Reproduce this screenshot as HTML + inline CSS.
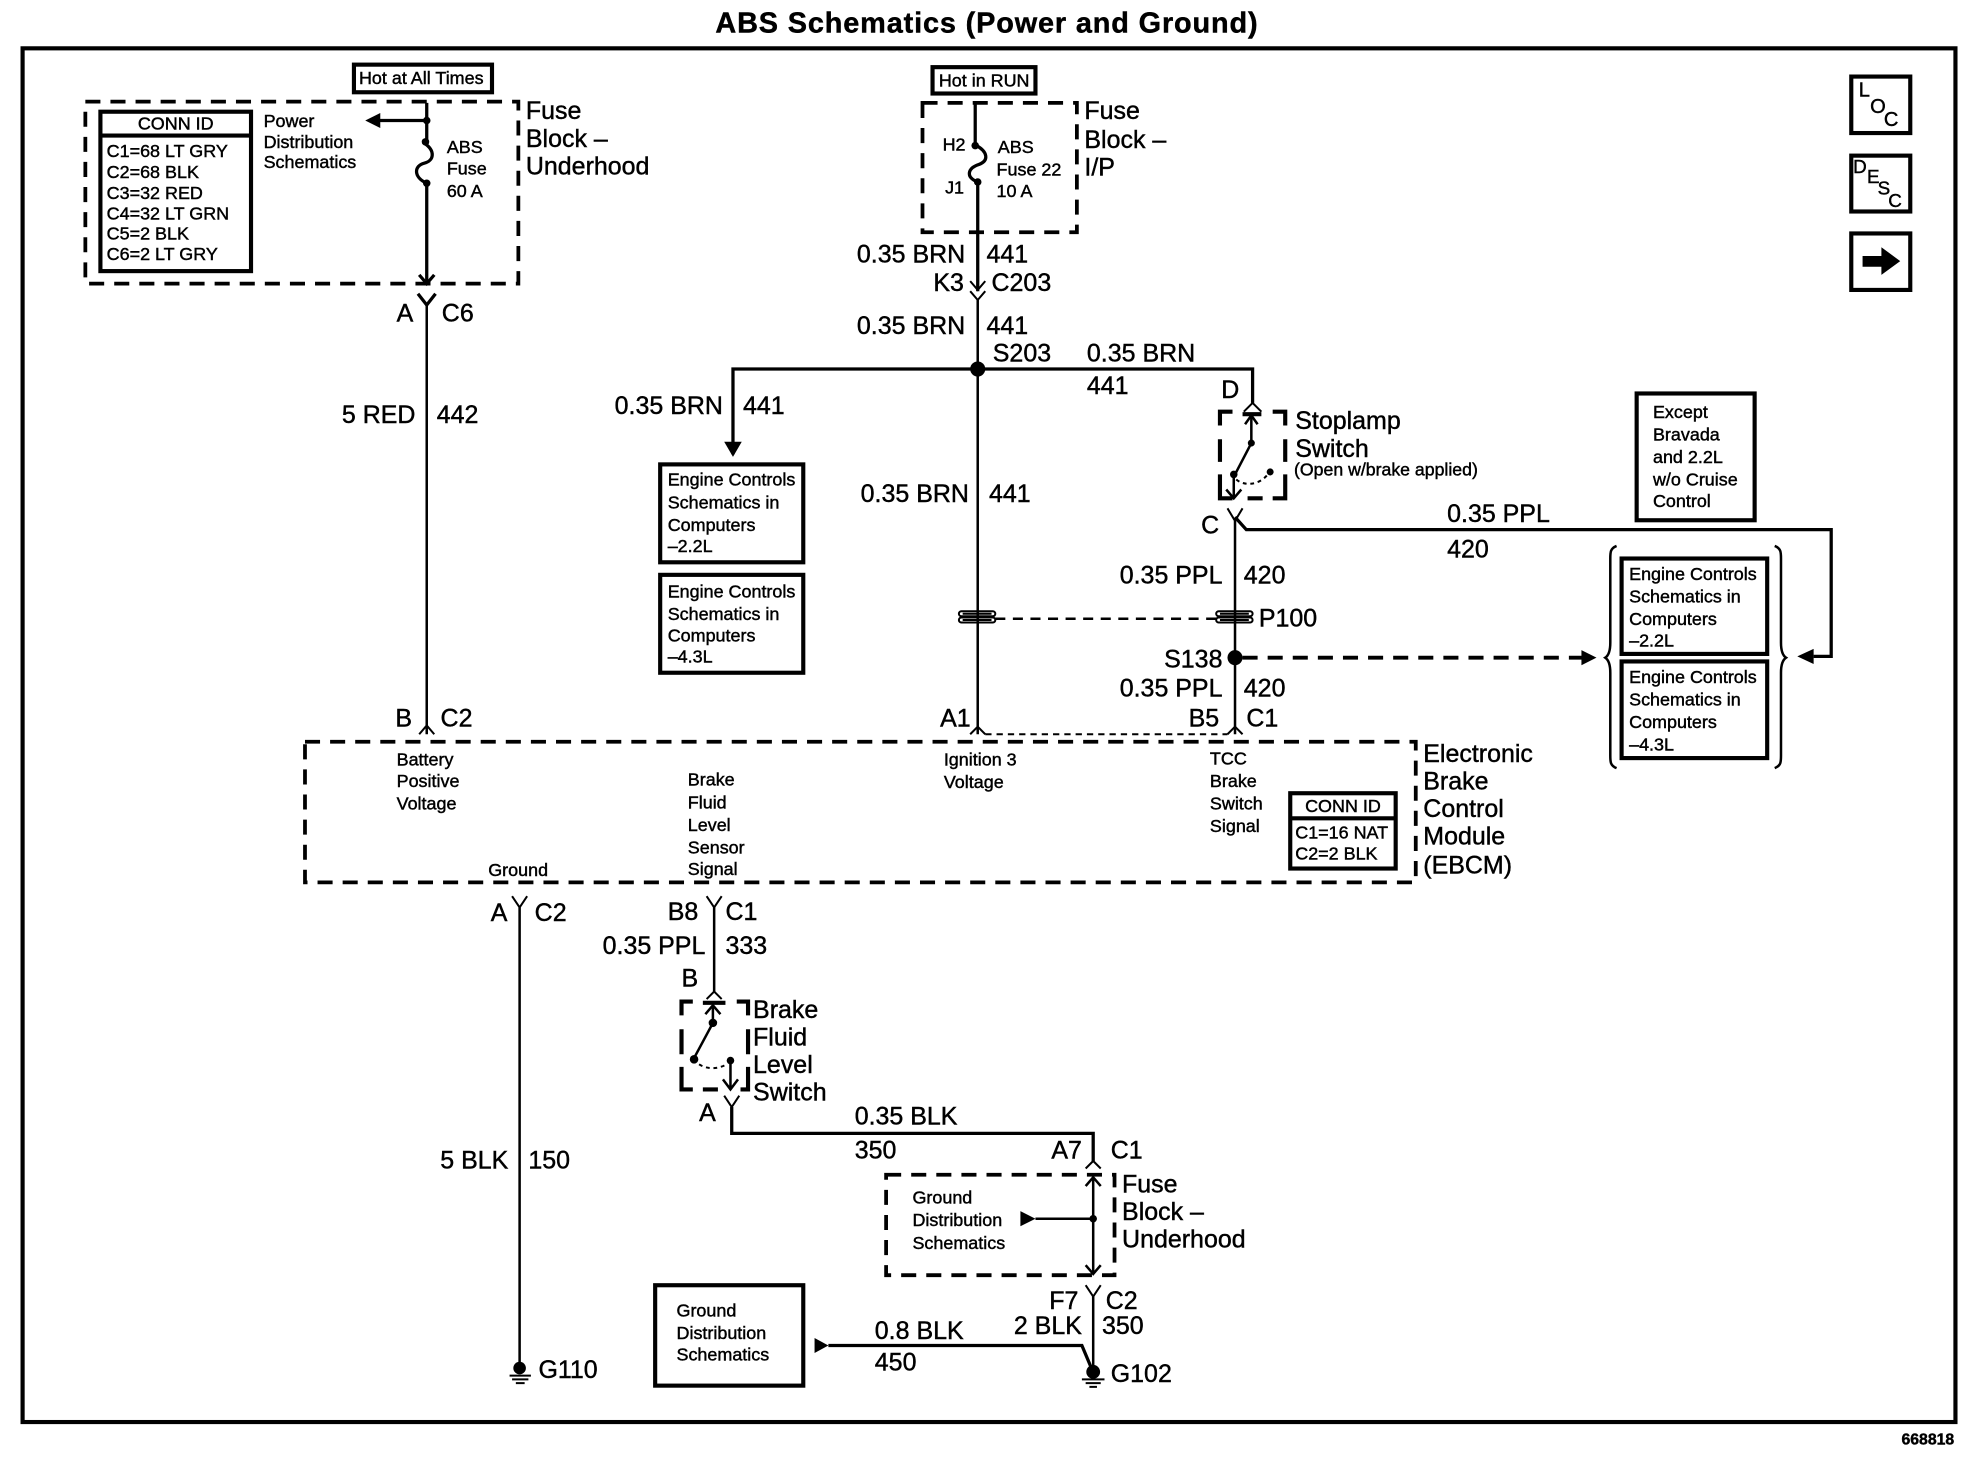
<!DOCTYPE html>
<html><head><meta charset="utf-8"><title>ABS Schematics (Power and Ground)</title>
<style>
html,body{margin:0;padding:0;background:#fff}
svg{display:block}
text{font-family:"Liberation Sans",Arial,sans-serif;fill:#000;stroke:#000;stroke-width:.35}
.w{font-size:19.900px}
.s{font-size:14.300px}
.e{text-anchor:end}
.b{fill:none;stroke:#000;stroke-width:3.300}
.l{fill:none;stroke:#000;stroke-width:2;stroke-linejoin:miter}
.h{fill:none;stroke:#000;stroke-width:2.600}
.d{fill:none;stroke:#000;stroke-width:3;stroke-dasharray:12 8}
.t{fill:none;stroke:#000;stroke-width:2;stroke-dasharray:8 6}
.c{fill:none;stroke:#000;stroke-width:1.600}
.o{fill:none;stroke:#000;stroke-width:1.600;stroke-dasharray:3 3}
</style></head><body>
<svg width="1968" height="1472" viewBox="0 0 1568 1172.800" xmlns="http://www.w3.org/2000/svg">
<rect width="1568" height="1173" fill="#fff"/>
<text x="786" y="26" text-anchor="middle" font-weight="bold" font-size="23" textLength="432">ABS Schematics (Power and Ground)</text>
<rect x="18" y="38.500" width="1540" height="1094.500" class="b"/>

<!-- top-left fuse block -->
<rect x="282" y="51.500" width="110" height="22" class="b"/>
<text x="286" y="67" class="s">Hot at All Times</text>
<rect x="68" y="81" width="345" height="145" class="d"/>
<rect x="80" y="89" width="120" height="127" class="b"/>
<path d="M80 108H200" class="b"/>
<text x="140" y="103" class="s" text-anchor="middle">CONN ID</text>
<text x="85" y="125" class="s">C1=68 LT GRY</text>
<text x="85" y="142" class="s">C2=68 BLK</text>
<text x="85" y="158.500" class="s">C3=32 RED</text>
<text x="85" y="175" class="s">C4=32 LT GRN</text>
<text x="85" y="191" class="s">C5=2 BLK</text>
<text x="85" y="207" class="s">C6=2 LT GRY</text>
<text x="210" y="101" class="s">Power</text>
<text x="210" y="118" class="s">Distribution</text>
<text x="210" y="134" class="s">Schematics</text>
<path d="M340 82V112M340 96H302" class="h"/>
<path d="M291 96L303 90V102Z"/>
<circle cx="340" cy="96" r="3"/>
<path d="M338 114C347 120 346 128 338 130C330 132 329 141 340 146" class="h"/>
<circle cx="339" cy="113" r="3"/><circle cx="340" cy="146" r="3"/>
<path d="M340 146V226" class="h"/>
<path d="M334 219L340 226L346 219" class="h"/>
<text x="356" y="122" class="s">ABS</text>
<text x="356" y="139" class="s">Fuse</text>
<text x="356" y="157" class="s">60 A</text>
<text x="419" y="95" class="w">Fuse</text>
<text x="419" y="117" class="w">Block –</text>
<text x="419" y="139" class="w">Underhood</text>
<path d="M333 234L340 243L347 234" class="h"/>
<path d="M340 243V585" class="l"/>
<text x="316" y="256" class="w">A</text><text x="352" y="256" class="w">C6</text>
<text x="331" y="337" class="w e">5 RED</text><text x="348" y="337" class="w">442</text>
<text x="315" y="579" class="w">B</text><text x="351" y="579" class="w">C2</text>
<path d="M334 585L340 578L346 585" class="c"/>

<!-- IP fuse block -->
<rect x="743" y="53.500" width="82" height="21" class="b"/>
<text x="748" y="69" class="s">Hot in RUN</text>
<rect x="735" y="82" width="123" height="103" class="d"/>
<path d="M777 82V116" class="h"/>
<circle cx="777" cy="116" r="3"/>
<path d="M778 116C787 121 788 128 780 131C771 134 769 141 779 145" class="h"/>
<circle cx="779" cy="145" r="3"/>
<path d="M779 145V232" class="h"/>
<path d="M773 224L779 231L785 224M773 232L779 239L785 232" class="c"/>
<text x="751" y="120" class="s">H2</text><text x="753" y="154" class="s">J1</text>
<text x="795" y="122" class="s">ABS</text>
<text x="794" y="140" class="s">Fuse 22</text>
<text x="794" y="157" class="s">10 A</text>
<text x="864" y="95" class="w">Fuse</text>
<text x="864" y="118" class="w">Block –</text>
<text x="864" y="140" class="w">I/P</text>
<text x="769" y="209" class="w e">0.35 BRN</text><text x="786" y="209" class="w">441</text>
<text x="768" y="232" class="w e">K3</text><text x="790" y="232" class="w">C203</text>
<text x="769" y="266" class="w e">0.35 BRN</text><text x="786" y="266" class="w">441</text>
<text x="791" y="288" class="w">S203</text>
<text x="866" y="288" class="w">0.35 BRN</text>
<text x="866" y="314" class="w">441</text>
<path d="M584 362V294H998V321" class="h"/>
<path d="M779 239V294" class="l"/>
<path d="M779 294V585" class="l"/>
<circle cx="779" cy="294" r="6"/>
<path d="M577 352H591L584 364Z"/>
<text x="576" y="330" class="w e">0.35 BRN</text><text x="592" y="330" class="w">441</text>
<text x="772" y="400" class="w e">0.35 BRN</text><text x="788" y="400" class="w">441</text>

<rect x="526" y="370" width="114" height="78" class="b"/>
<text x="532" y="387" class="s">Engine Controls</text>
<text x="532" y="405" class="s">Schematics in</text>
<text x="532" y="423" class="s">Computers</text>
<text x="532" y="440" class="s">–2.2L</text>
<rect x="526" y="458" width="114" height="78" class="b"/>
<text x="532" y="476" class="s">Engine Controls</text>
<text x="532" y="494" class="s">Schematics in</text>
<text x="532" y="511" class="s">Computers</text>
<text x="532" y="528" class="s">–4.3L</text>

<!-- stoplamp -->
<text x="973" y="317" class="w">D</text>
<path d="M991 328L998 321L1005 328" class="c"/>
<path d="M972 339V328H982M1014 328H1024V339M972 350V368M972 378V397H982M1024 350V368M1024 378V397H1014M994 397H1006" class="b"/>
<path d="M990 330H1005" class="b"/>
<path d="M997 332V353L984 378" class="l"/>
<path d="M992 338L997 331L1002 338" class="l"/>
<circle cx="997" cy="353" r="2.800"/><circle cx="983" cy="378" r="3"/><circle cx="1012" cy="376" r="2.800"/>
<path d="M985 382C992 388 1004 386 1010 378" class="o"/>
<path d="M983 378V396M977 390L983 397L989 390" class="l"/>
<text x="1032" y="342" class="w">Stoplamp</text>
<text x="1032" y="364" class="w">Switch</text>
<text x="1031" y="379" font-size="14.100">(Open w/brake applied)</text>
<text x="957" y="425" class="w">C</text>
<path d="M978 405L984 415L990 405" class="c"/>
<path d="M984 415V585" class="l"/>
<path d="M984 412L993 422H1459V523H1445" class="h"/>
<path d="M1432 523L1445 517V529Z"/>
<text x="1153" y="416" class="w">0.35 PPL</text>
<text x="1153" y="444" class="w">420</text>
<rect x="1304" y="313.500" width="94" height="101" class="b"/>
<text x="1317" y="333" class="s">Except</text>
<text x="1317" y="351" class="s">Bravada</text>
<text x="1317" y="369" class="s">and 2.2L</text>
<text x="1317" y="387" class="s">w/o Cruise</text>
<text x="1317" y="404" class="s">Control</text>

<!-- right boxes -->
<path d="M1288 435C1283 437 1283 440 1283 445V512C1283 518 1282 522 1279 524C1282 526 1283 530 1283 536V602C1283 607 1283 610 1288 612" class="l"/>
<path d="M1414 435C1419 437 1419 440 1419 445V512C1419 518 1420 522 1423 524C1420 526 1419 530 1419 536V602C1419 607 1419 610 1414 612" class="l"/>
<rect x="1292" y="445" width="116" height="76" class="b"/>
<text x="1298" y="462" class="s">Engine Controls</text>
<text x="1298" y="480" class="s">Schematics in</text>
<text x="1298" y="498" class="s">Computers</text>
<text x="1298" y="515" class="s">–2.2L</text>
<rect x="1292" y="527" width="116" height="77" class="b"/>
<text x="1298" y="544" class="s">Engine Controls</text>
<text x="1298" y="562" class="s">Schematics in</text>
<text x="1298" y="580" class="s">Computers</text>
<text x="1298" y="598" class="s">–4.3L</text>

<!-- P100 -->
<rect x="764" y="487" width="29" height="4" rx="2" class="c"/><rect x="764" y="492" width="29" height="4" rx="2" class="c"/>
<path d="M767 489H790M767 494H790" class="c"/>
<rect x="969" y="487" width="29" height="4" rx="2" class="c"/><rect x="969" y="492" width="29" height="4" rx="2" class="c"/>
<path d="M972 489H995M972 494H995" class="c"/>
<path d="M793 493H969" class="t"/>
<text x="1003" y="499" class="w">P100</text>
<text x="974" y="465" class="w e">0.35 PPL</text><text x="991" y="465" class="w">420</text>
<text x="974" y="532" class="w e">S138</text>
<circle cx="984" cy="524" r="6"/>
<path d="M990 524H1262" class="d"/>
<path d="M1272 524L1260 518V530Z"/>
<text x="974" y="555" class="w e">0.35 PPL</text><text x="991" y="555" class="w">420</text>
<text x="749" y="579" class="w">A1</text>
<text x="947" y="579" class="w">B5</text><text x="993" y="579" class="w">C1</text>
<path d="M773 585L779 579L785 585M978 585L984 579L990 585" class="c"/>
<path d="M785 585H978" fill="none" stroke="#000" stroke-width="1.600" stroke-dasharray="5 4"/>

<!-- EBCM -->
<rect x="243" y="591" width="885" height="112" class="d"/>
<text x="316" y="610" class="s">Battery</text>
<text x="316" y="627" class="s">Positive</text>
<text x="316" y="645" class="s">Voltage</text>
<text x="548" y="626" class="s">Brake</text>
<text x="548" y="644" class="s">Fluid</text>
<text x="548" y="662" class="s">Level</text>
<text x="548" y="680" class="s">Sensor</text>
<text x="548" y="697" class="s">Signal</text>
<text x="752" y="610" class="s">Ignition 3</text>
<text x="752" y="628" class="s">Voltage</text>
<text x="964" y="609" class="s">TCC</text>
<text x="964" y="627" class="s">Brake</text>
<text x="964" y="645" class="s">Switch</text>
<text x="964" y="663" class="s">Signal</text>
<text x="389" y="698" class="s">Ground</text>
<rect x="1028" y="632" width="84" height="60" class="b"/>
<path d="M1028 652H1112" class="b"/>
<text x="1070" y="647" class="s" text-anchor="middle">CONN ID</text>
<text x="1032" y="668" class="s">C1=16 NAT</text>
<text x="1032" y="685" class="s">C2=2 BLK</text>
<text x="1134" y="607" class="w">Electronic</text>
<text x="1134" y="629" class="w">Brake</text>
<text x="1134" y="651" class="w">Control</text>
<text x="1134" y="673" class="w">Module</text>
<text x="1134" y="696" class="w">(EBCM)</text>

<!-- G110 -->
<path d="M408 714L414 723L420 714" class="c"/>
<path d="M414 723V1088" class="l"/>
<text x="391" y="734" class="w">A</text><text x="426" y="734" class="w">C2</text>
<text x="405" y="931" class="w e">5 BLK</text><text x="421" y="931" class="w">150</text>
<circle cx="414" cy="1090" r="5"/>
<path d="M406 1096H423M408 1099H421M411 1102H418" class="c"/>
<text x="429" y="1098" class="w">G110</text>

<!-- brake fluid -->
<path d="M563 714L569 723L575 714" class="c"/>
<path d="M569 723V790" class="l"/>
<text x="532" y="733" class="w">B8</text><text x="578" y="733" class="w">C1</text>
<text x="562" y="760" class="w e">0.35 PPL</text><text x="578" y="760" class="w">333</text>
<text x="543" y="786" class="w">B</text>
<path d="M563 796L569 790L575 796" class="c"/>
<path d="M543 809V798H552M587 798H596V809M543 820V840M543 850V868H552M596 820V840M596 850V868H590M560 868H572" class="b"/>
<path d="M560 799H578" class="b"/>
<path d="M568 801V815L553 843" class="l"/>
<path d="M562 808L568 801L574 808" class="l"/>
<circle cx="568" cy="815" r="3.400"/><circle cx="553" cy="844" r="3.400"/><circle cx="582" cy="845" r="3"/>
<path d="M557 848C563 852 572 852 579 848" class="o"/>
<path d="M582 845V867M576 860L582 868L588 860" class="l"/>
<text x="600" y="811" class="w">Brake</text>
<text x="600" y="833" class="w">Fluid</text>
<text x="600" y="855" class="w">Level</text>
<text x="600" y="877" class="w">Switch</text>
<text x="557" y="893" class="w">A</text>
<path d="M577 873L583 882L589 873" class="c"/>
<path d="M583 882V903H871V925" class="h"/>
<text x="681" y="896" class="w">0.35 BLK</text>
<text x="681" y="923" class="w">350</text>
<text x="862" y="923" class="w e">A7</text><text x="885" y="923" class="w">C1</text>
<path d="M865 931L871 925L877 931" class="c"/>

<!-- lower fuse block -->
<rect x="706" y="936" width="182" height="80" class="d"/>
<path d="M871 938V1015" class="l"/>
<path d="M865 945L871 938L877 945M865 1008L871 1015L877 1008" class="l"/>
<path d="M825 971H871" class="l"/>
<path d="M825 971L813 965V977Z"/>
<circle cx="871" cy="971" r="3"/>
<text x="727" y="959" class="s">Ground</text>
<text x="727" y="977" class="s">Distribution</text>
<text x="727" y="995" class="s">Schematics</text>
<text x="894" y="950" class="w">Fuse</text>
<text x="894" y="972" class="w">Block –</text>
<text x="894" y="994" class="w">Underhood</text>
<path d="M865 1024L871 1033L877 1024" class="c"/>
<path d="M871 1033V1092" class="l"/>
<text x="836" y="1043" class="w">F7</text><text x="881" y="1043" class="w">C2</text>
<text x="862" y="1063" class="w e">2 BLK</text><text x="878" y="1063" class="w">350</text>
<path d="M660 1072H862L870 1091" class="h"/>
<path d="M660 1072L649 1066V1078Z"/>
<circle cx="871" cy="1093" r="5.500"/>
<path d="M862 1099H880M865 1102H877M868 1105H874" class="c"/>
<text x="885" y="1101" class="w">G102</text>
<text x="697" y="1067" class="w">0.8 BLK</text>
<text x="697" y="1092" class="w">450</text>
<rect x="522" y="1024" width="118" height="80" class="b"/>
<text x="539" y="1049" class="s">Ground</text>
<text x="539" y="1067" class="s">Distribution</text>
<text x="539" y="1084" class="s">Schematics</text>

<!-- nav icons -->
<rect x="1475" y="61" width="47" height="45" class="b"/>
<text x="1481" y="77" font-size="16">L</text>
<text x="1490" y="90" font-size="16">O</text>
<text x="1501" y="100.500" font-size="16">C</text>
<rect x="1475" y="124" width="47" height="44.500" class="b"/>
<text x="1476.500" y="138" font-size="15">D</text>
<text x="1487.500" y="146" font-size="15">E</text>
<text x="1496" y="155" font-size="15">S</text>
<text x="1504.500" y="165" font-size="15">C</text>
<rect x="1475" y="186" width="47" height="45" class="b"/>
<path d="M1484 204H1499V197L1514 208L1499 219V212.500H1484Z"/>
<text x="1515" y="1151" font-size="12.600" font-weight="bold">668818</text>
</svg>
</body></html>
